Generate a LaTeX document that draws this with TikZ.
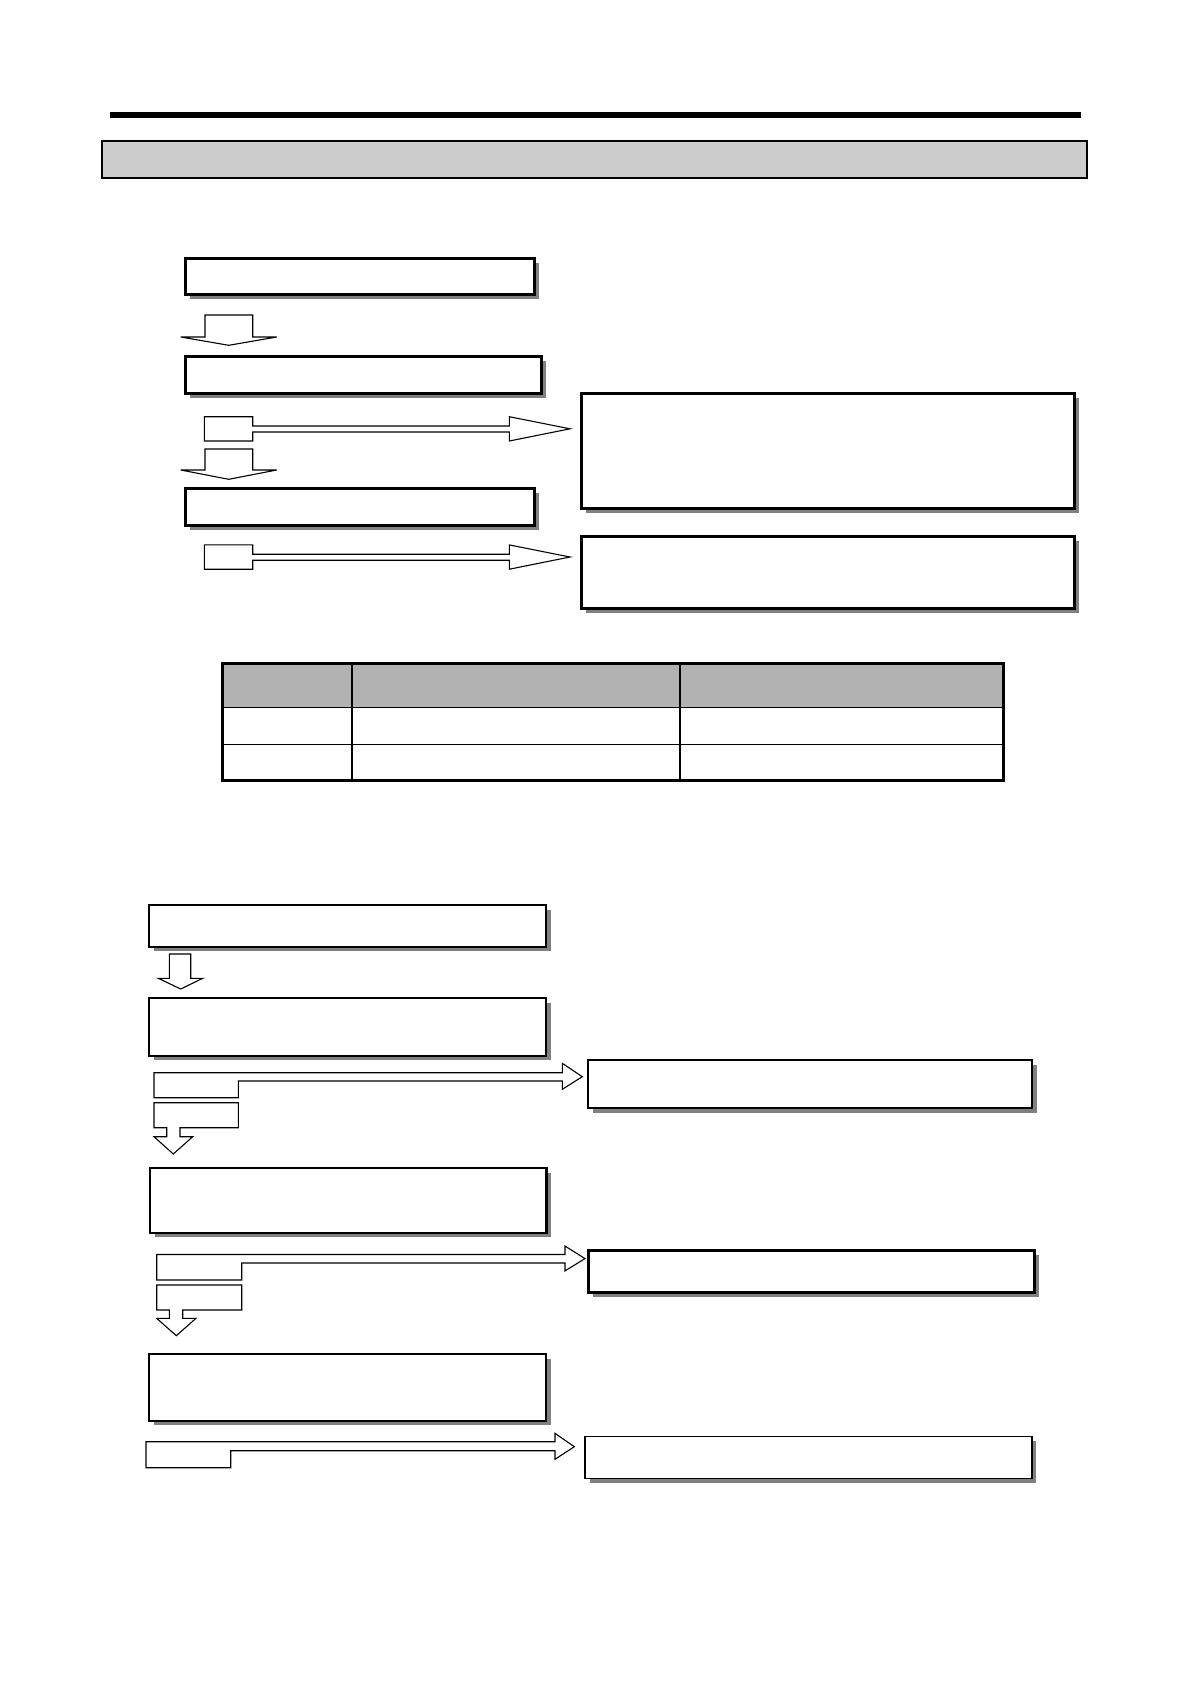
\documentclass[tikz,border=0pt]{standalone}
\usepackage{tikz}
\usetikzlibrary{shadows}

\begin{document}
\begin{tikzpicture}[
  x=1pt,y=-1pt,
  flowbox/.style={draw,fill=white,line width=3pt,inner sep=0pt,outer sep=0pt,
    drop shadow={shadow xshift=4.5pt,shadow yshift=-4.5pt,fill=black!50,opacity=1}},
  thinbox/.style={flowbox,line width=2.2pt},
  blk/.style={draw,fill=white,line width=1.1pt,line join=miter},
]
\useasboundingbox (0,0) rectangle (1191,1684);

% page header
\fill (110,112.3) rectangle (1080.5,118.2);
\node[draw,fill=black!20,line width=1.2pt,inner sep=0pt,minimum width=985,minimum height=37] (title) at (594.5,159.5) {};

% first flow
\node[flowbox,minimum width=349,minimum height=36] (step1) at (360.4,276) {};
\node[flowbox,minimum width=356,minimum height=37] (step2) at (363.7,375.4) {};
\node[flowbox,minimum width=349,minimum height=37.5] (step3) at (360.4,506.9) {};
\node[flowbox,minimum width=493,minimum height=115] (res1) at (828.4,451.3) {};
\node[flowbox,minimum width=493,minimum height=72] (res2) at (828.4,572.5) {};

\draw[blk] (205,315) -- (252.7,315) -- (252.7,337) -- (276.7,337) -- (228.8,345.3)
  -- (180.7,337) -- (205,337) -- cycle;
\draw[blk] (205,449) -- (252.7,449) -- (252.7,470) -- (276.7,470) -- (228.8,479.3)
  -- (180.7,470) -- (205,470) -- cycle;
\draw[blk] (204.3,416.7) -- (252.7,416.7) -- (252.7,426) -- (509.3,426) -- (509.3,416.7)
  -- (570,428.8) -- (509.3,441) -- (509.3,432) -- (252.7,432) -- (252.7,441) -- (204.3,441) -- cycle;
\draw[blk] (204.3,544.9) -- (252.7,544.9) -- (252.7,554.2) -- (509.3,554.2) -- (509.3,544.9)
  -- (570,557) -- (509.3,569.2) -- (509.3,560.2) -- (252.7,560.2) -- (252.7,569.2) -- (204.3,569.2) -- cycle;

% table
\fill[black!30] (222.3,663.7) rectangle (1003,707.4);
\draw[line width=1.5pt] (222.3,707.4) -- (1003,707.4);
\draw[line width=1.5pt] (222.3,744.7) -- (1003,744.7);
\draw[line width=1.5pt] (352.2,663.7) -- (352.2,780.7);
\draw[line width=1.5pt] (679.8,663.7) -- (679.8,780.7);
\node[draw,line width=3pt,inner sep=0pt,minimum width=780.7,minimum height=117] (tbl) at (612.65,722.2) {};

% second flow
\node[thinbox,minimum width=396.7,minimum height=41.7] (op1) at (347.7,925.9) {};
\node[thinbox,minimum width=396.7,minimum height=57.7] (op2) at (347.7,1026.9) {};
\node[thinbox,minimum width=396.3,minimum height=64.5] (op3) at (348.4,1200.5) {};
\node[thinbox,minimum width=396.7,minimum height=66.7] (op4) at (347.7,1387.4) {};
\node[flowbox,line width=2pt,minimum width=444.3,minimum height=48.3] (out1) at (810.2,1084.2) {};
\node[flowbox,minimum width=446.3,minimum height=42] (out2) at (811.2,1271.7) {};
\node[flowbox,line width=1.5pt,minimum width=446.7,minimum height=41.6] (out3) at (808.4,1457.5) {};

\draw[blk] (169.3,954) -- (190.7,954) -- (190.7,978.3) -- (202.7,978.3) -- (180.7,989)
  -- (158.3,978.3) -- (169.3,978.3) -- cycle;

\draw[blk] (154,1072.7) -- (562.3,1072.7) -- (562.3,1063.3) -- (582.3,1076.7) -- (562.3,1089.3)
  -- (562.3,1081) -- (238.3,1081) -- (238.3,1097.7) -- (154,1097.7) -- cycle;
\draw[blk] (154,1102.7) -- (238.3,1102.7) -- (238.3,1127.7) -- (180,1127.7) -- (180,1136.7)
  -- (192.7,1136.7) -- (173.3,1154) -- (154,1136.7) -- (166.7,1136.7) -- (166.7,1127.7) -- (154,1127.7) -- cycle;

\draw[blk] (156.7,1254.5) -- (565,1254.5) -- (565,1246) -- (585,1258.6) -- (565,1270.9)
  -- (565,1263) -- (241.7,1263) -- (241.7,1280) -- (156.7,1280) -- cycle;
\draw[blk] (156.7,1285) -- (241.7,1285) -- (241.7,1310) -- (182.7,1310) -- (182.7,1318.3)
  -- (196,1318.3) -- (176.3,1335.7) -- (156.7,1318.3) -- (169.3,1318.3) -- (169.3,1310) -- (156.7,1310) -- cycle;

\draw[blk] (146,1441.7) -- (555,1441.7) -- (555,1433.3) -- (574.3,1446.7) -- (555,1459.3)
  -- (555,1450.7) -- (230.7,1450.7) -- (230.7,1467.7) -- (146,1467.7) -- cycle;
\end{tikzpicture}
\end{document}
